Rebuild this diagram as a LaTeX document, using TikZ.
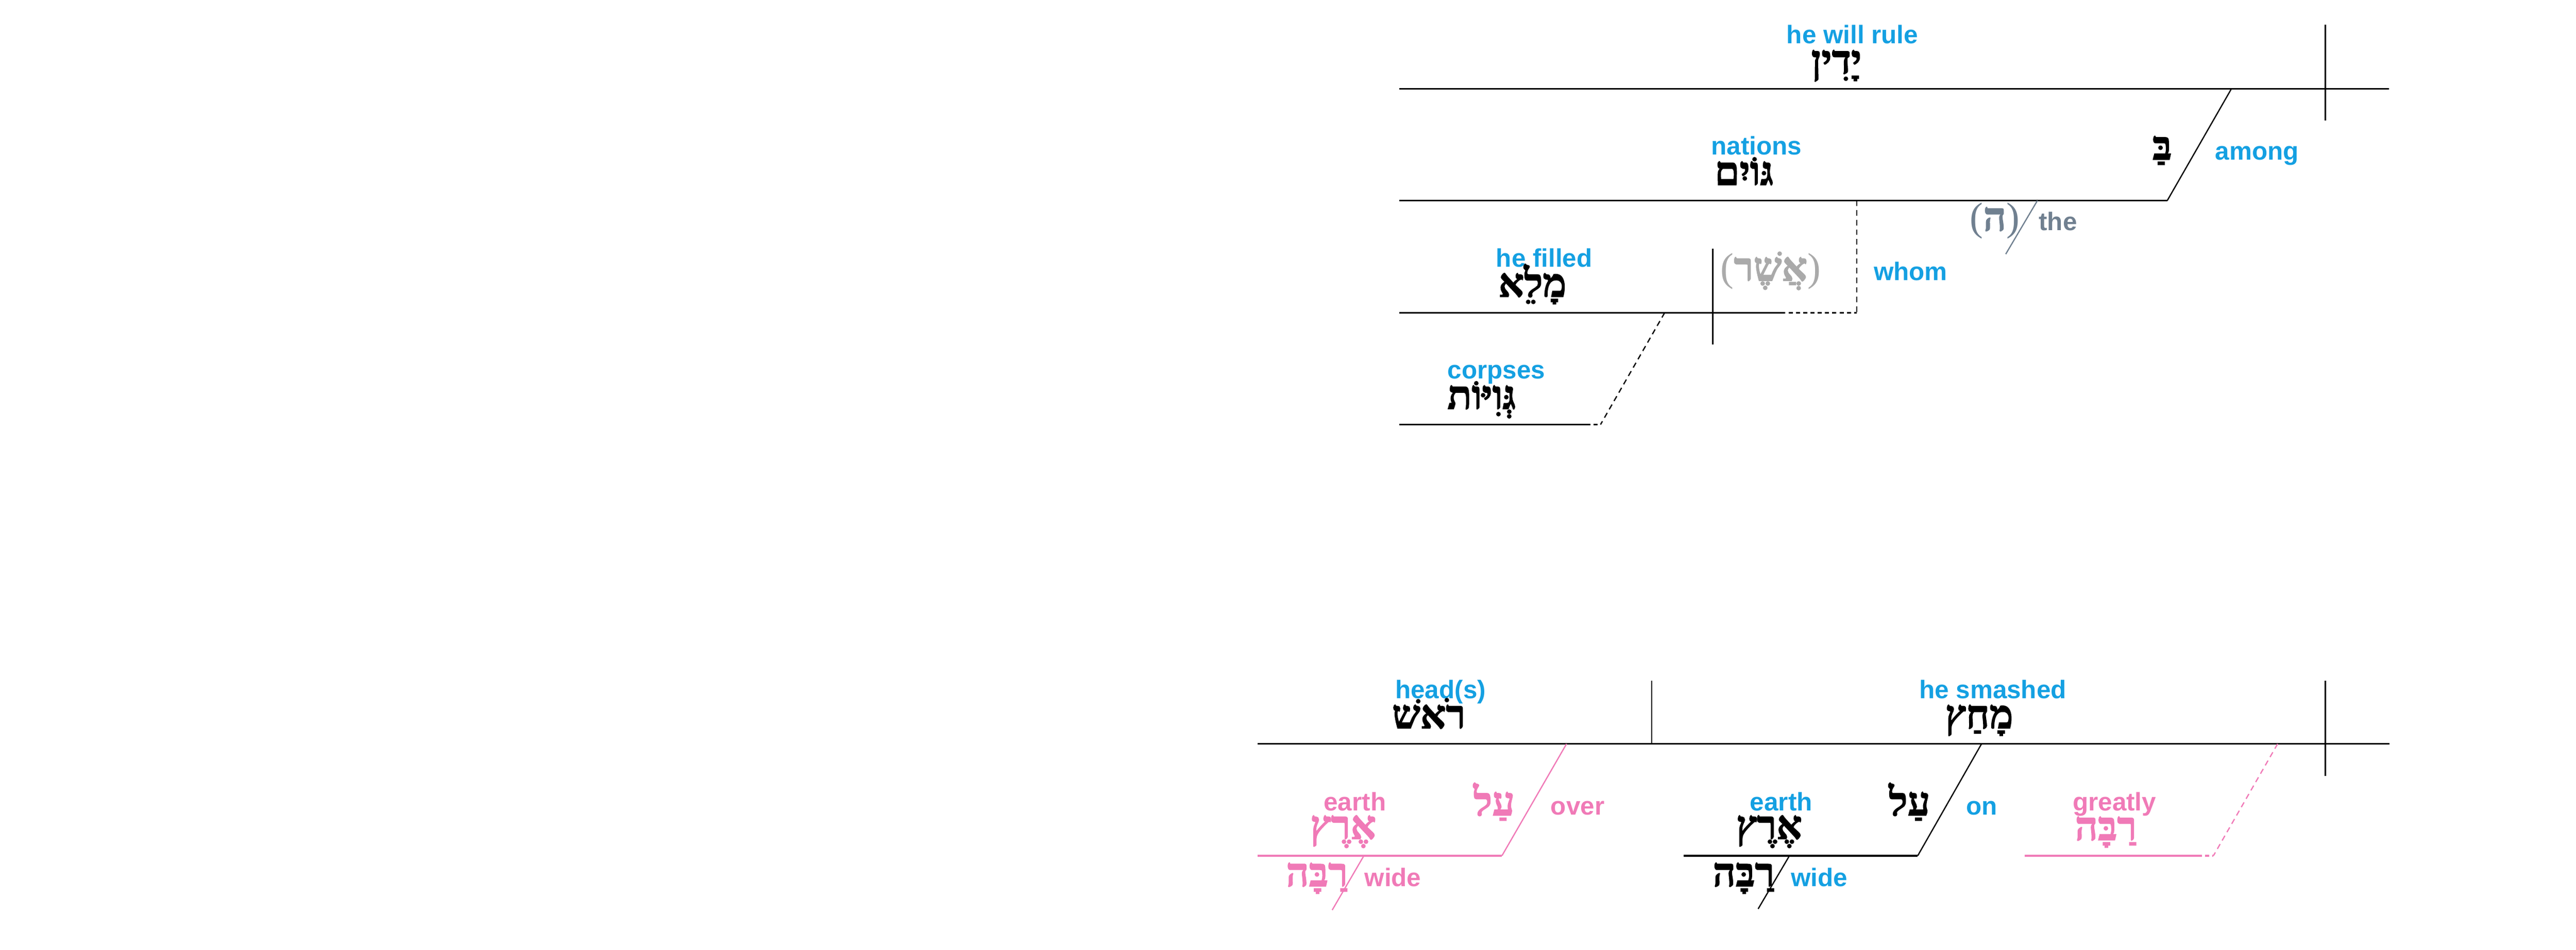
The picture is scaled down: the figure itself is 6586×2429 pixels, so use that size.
\documentclass[tikz,border=0pt]{standalone}
\usepackage{fontspec}
\setmainfont{Liberation Sans}
\newfontfamily\hebfont[Script=Hebrew, BoldFeatures={FakeBold=2}]{Liberation Serif}
\newfontfamily\parenfont{Liberation Serif}
\TeXXeTstate=1
\usetikzlibrary{positioning}
\definecolor{glossblue}{RGB}{20,160,226}
\definecolor{modpink}{RGB}{240,122,183}
\definecolor{artslate}{RGB}{112,128,144}
\definecolor{impgray}{RGB}{170,170,170}
\newcommand{\heb}[1]{\beginR #1\endR}
\newcommand{\pheb}[1]{{\parenfont\mdseries(}\beginR #1\endR{\parenfont\mdseries)}}

\begin{document}
\begin{tikzpicture}[x=0.01cm, y=-0.01cm,
        gloss/.style={font=\bfseries\fontsize{18.5}{20}\selectfont, text=glossblue, inner sep=0pt, anchor=base},
        side/.style={gloss, anchor=base west},
        word/.style={font=\hebfont\bfseries\fontsize{29}{31}\selectfont, inner sep=0pt, anchor=base},
        mainline/.style={line width=1.3pt},
        slant/.style={line width=0.9pt},
        divider/.style={line width=0.9pt},
        gap/.style={line width=0.9pt, dash pattern=on 4pt off 3pt},
        dotline/.style={line width=1.3pt, dash pattern=on 3pt off 2.3pt}
    ]
        \useasboundingbox (0,0) rectangle (6586,2429);

        % Top clause
        \node[gloss] (rule) at (4736,111) {he will rule};
        \node[word] (ruleheb) at (4695,188) {\heb{יָדִין}};
        \coordinate (topl) at (3578,227);
        \coordinate (topr) at (6108,227);
        \draw[mainline] (topl) -- (topr);
        \coordinate (topdivt) at (5945,63);
        \coordinate (topdivb) at (5945,308);
        \draw[divider] (topdivt) -- (topdivb);

        % Among nations
        \coordinate (amongt) at (5705,227);
        \coordinate (amongb) at (5541,513);
        \draw[slant] (amongt) -- (amongb);
        \node[word] (bet) at (5528,408) {\heb{בַּ}};
        \node[side] (among) at (5663,409) {among};
        \node[gloss] (nations) at (4491,396) {nations};
        \node[word] (nationsheb) at (4459,473) {\heb{גּוֹיִם}};
        \coordinate (natl) at (3578,513);
        \draw[mainline] (natl) -- (amongb);

        % Article
        \coordinate (artt) at (5209,513);
        \coordinate (artb) at (5128,650);
        \draw[slant, artslate] (artt) -- (artb);
        \node[word, text=artslate] (art) at (5100,590) {\pheb{ה}};
        \node[side, text=artslate] (the) at (5212,590) {the};

        % Relative clause
        \coordinate (relt) at (4747,513);
        \coordinate (relb) at (4747,800);
        \draw[gap] (relt) -- (relb);
        \node[side] (whom) at (4790,717) {whom};
        \node[gloss] (filled) at (3948,683) {he filled};
        \node[word] (filledheb) at (3918,759) {\heb{מָלֵא}};
        \node[word, text=impgray] (asher) at (4527,718) {\pheb{אֲשֶׁר}};
        \coordinate (rell) at (3578,800);
        \coordinate (reld) at (4554,800);
        \draw[mainline] (rell) -- (reld);
        \draw[dotline] (reld) -- (relb);
        \coordinate (reldivt) at (4379,636);
        \coordinate (reldivb) at (4379,881);
        \draw[divider] (reldivt) -- (reldivb);

        % Object
        \coordinate (objt) at (4256,800);
        \coordinate (objb) at (4092,1086);
        \draw[gap] (objt) -- (objb);
        \node[gloss] (corpses) at (3826,969) {corpses};
        \node[word] (corpsesheb) at (3788,1046) {\heb{גְּוִיּוֹת}};
        \coordinate (objl) at (3578,1086);
        \coordinate (objd) at (4055,1086);
        \draw[mainline] (objl) -- (objd);
        \draw[dotline] (objd) -- (objb);

        % Bottom clause
        \node[gloss] (heads) at (3683,1787) {head(s)};
        \node[word] (headsheb) at (3653,1863) {\heb{רֹאשׁ}};
        \node[gloss] (smashed) at (5095,1787) {he smashed};
        \node[word] (smashedheb) at (5060,1863) {\heb{מָחַץ}};
        \coordinate (botl) at (3215,1903);
        \coordinate (botr) at (6109,1903);
        \draw[mainline] (botl) -- (botr);
        \coordinate (botdivat) at (4223,1741);
        \coordinate (botdivab) at (4223,1903);
        \draw[divider] (botdivat) -- (botdivab);
        \coordinate (botdivbt) at (5945,1741);
        \coordinate (botdivbb) at (5945,1985);
        \draw[divider] (botdivbt) -- (botdivbb);

        % Over the wide earth
        \coordinate (overt) at (4005,1903);
        \coordinate (overb) at (3840,2189);
        \coordinate (overl) at (3215,2189);
        \draw[slant, modpink] (overt) -- (overb);
        \draw[mainline, modpink] (overl) -- (overb);
        \node[word, text=modpink] (overheb) at (3820,2086) {\heb{עַל}};
        \node[side, text=modpink] (over) at (3964,2085) {over};
        \node[gloss, text=modpink] (eartha) at (3464,2074) {earth};
        \node[word, text=modpink] (earthaheb) at (3434,2146) {\heb{אֶרֶץ}};
        \coordinate (widea) at (3487,2189);
        \coordinate (wideab) at (3406,2328);
        \draw[slant, modpink] (widea) -- (wideab);
        \node[word, text=modpink] (wideaheb) at (3367,2267) {\heb{רַבָּה}};
        \node[side, text=modpink] (wideaen) at (3488,2268) {wide};

        % On the wide earth
        \coordinate (ont) at (5066,1903);
        \coordinate (onb) at (4903,2189);
        \coordinate (onl) at (4305,2189);
        \draw[slant] (ont) -- (onb);
        \draw[mainline] (onl) -- (onb);
        \node[word] (onheb) at (4882,2086) {\heb{עַל}};
        \node[side] (on) at (5026,2085) {on};
        \node[gloss] (earthb) at (4554,2074) {earth};
        \node[word] (earthbheb) at (4523,2146) {\heb{אֶרֶץ}};
        \coordinate (wideb) at (4575,2189);
        \coordinate (widebb) at (4495,2325);
        \draw[slant] (wideb) -- (widebb);
        \node[word] (widebheb) at (4458,2267) {\heb{רַבָּה}};
        \node[side] (widebn) at (4578,2268) {wide};

        % Greatly
        \coordinate (greatt) at (5823,1903);
        \coordinate (greatb) at (5659,2189);
        \coordinate (greatl) at (5176,2189);
        \coordinate (greatd) at (5619,2189);
        \draw[gap, modpink] (greatt) -- (greatb);
        \draw[mainline, modpink] (greatl) -- (greatd);
        \draw[dotline, modpink] (greatd) -- (greatb);
        \node[gloss, text=modpink] (greatly) at (5406,2074) {greatly};
        \node[word, text=modpink] (greatlyheb) at (5384,2149) {\heb{רַבָּה}};
    \end{tikzpicture}
\end{document}
